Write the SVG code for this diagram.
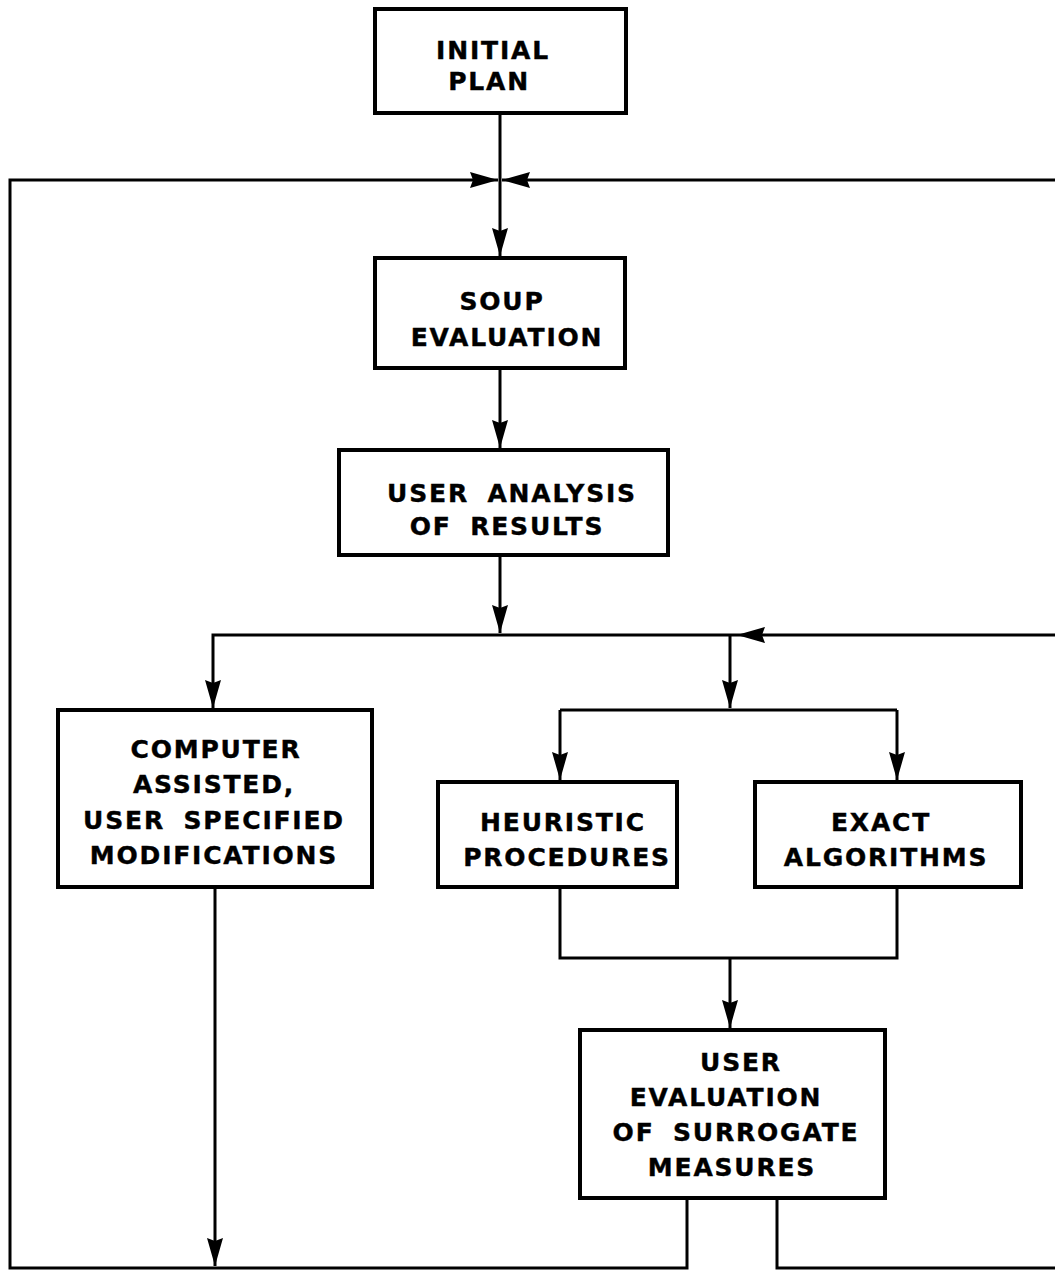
<svg xmlns="http://www.w3.org/2000/svg" width="1055" height="1271" viewBox="0 0 1055 1271">
<style>
.box{fill:#fff;stroke:#000;stroke-width:4}
.ln{fill:none;stroke:#000;stroke-width:3;stroke-linejoin:miter}
.t{font-family:"DejaVu Sans","Liberation Sans",sans-serif;font-weight:bold;font-size:25px;letter-spacing:1.8px;word-spacing:8px;text-anchor:middle;fill:#000;stroke:#000;stroke-width:0.4}
</style>
<defs>
<marker id="ah" markerUnits="userSpaceOnUse" markerWidth="32" markerHeight="18" refX="28" refY="8.5" orient="auto" viewBox="0 0 32 18">
<path d="M0,0.5 L28,8.5 L0,16.5 L3,8.5 Z" fill="#000"/>
</marker>
</defs>
<rect width="1055" height="1271" fill="#fff"/>
<g id="connectors">
<path class="ln" d="M500,113 L500,256" marker-end="url(#ah)"/>
<path class="ln" d="M500,368 L500,448" marker-end="url(#ah)"/>
<path class="ln" d="M500,555 L500,633" marker-end="url(#ah)"/>
<path class="ln" d="M1055,635 L737,635" marker-end="url(#ah)"/>
<path class="ln" d="M737,635 L213,635 L213,708" marker-end="url(#ah)"/>
<path class="ln" d="M730,635 L730,708" marker-end="url(#ah)"/>
<path class="ln" d="M560,710 L897,710"/>
<path class="ln" d="M560,710 L560,780" marker-end="url(#ah)"/>
<path class="ln" d="M897,710 L897,780" marker-end="url(#ah)"/>
<path class="ln" d="M560,887 L560,958 L897,958 L897,887"/>
<path class="ln" d="M730,958 L730,1028" marker-end="url(#ah)"/>
<path class="ln" d="M215,887 L215,1266" marker-end="url(#ah)"/>
<path class="ln" d="M687,1198 L687,1268 L10,1268 L10,180 L498,180" marker-end="url(#ah)"/>
<path class="ln" d="M777,1198 L777,1268 L1055,1268"/>
<path class="ln" d="M1055,180 L502,180" marker-end="url(#ah)"/>
</g>
<g id="initial-plan">
<rect class="box" x="375" y="9" width="251" height="104"/>
<text class="t" x="493" y="59">INITIAL</text>
<text class="t" x="489" y="90">PLAN</text>
</g>
<g id="soup-evaluation">
<rect class="box" x="375" y="258" width="250" height="110"/>
<text class="t" x="502" y="310">SOUP</text>
<text class="t" x="507" y="346">EVALUATION</text>
</g>
<g id="user-analysis">
<rect class="box" x="339" y="450" width="329" height="105"/>
<text class="t" x="512" y="502">USER ANALYSIS</text>
<text class="t" x="507" y="535">OF RESULTS</text>
</g>
<g id="computer-assisted">
<rect class="box" x="58" y="710" width="314" height="177"/>
<text class="t" x="216" y="758">COMPUTER</text>
<text class="t" x="214" y="793">ASSISTED,</text>
<text class="t" x="214" y="829">USER SPECIFIED</text>
<text class="t" x="214" y="864">MODIFICATIONS</text>
</g>
<g id="heuristic">
<rect class="box" x="438" y="782" width="239" height="105"/>
<text class="t" x="563" y="831">HEURISTIC</text>
<text class="t" x="567" y="866">PROCEDURES</text>
</g>
<g id="exact">
<rect class="box" x="755" y="782" width="266" height="105"/>
<text class="t" x="881" y="831">EXACT</text>
<text class="t" x="886" y="866">ALGORITHMS</text>
</g>
<g id="user-evaluation">
<rect class="box" x="580" y="1030" width="305" height="168"/>
<text class="t" x="741" y="1071">USER</text>
<text class="t" x="726" y="1106">EVALUATION</text>
<text class="t" x="736" y="1141">OF SURROGATE</text>
<text class="t" x="732" y="1176">MEASURES</text>
</g>
</svg>
